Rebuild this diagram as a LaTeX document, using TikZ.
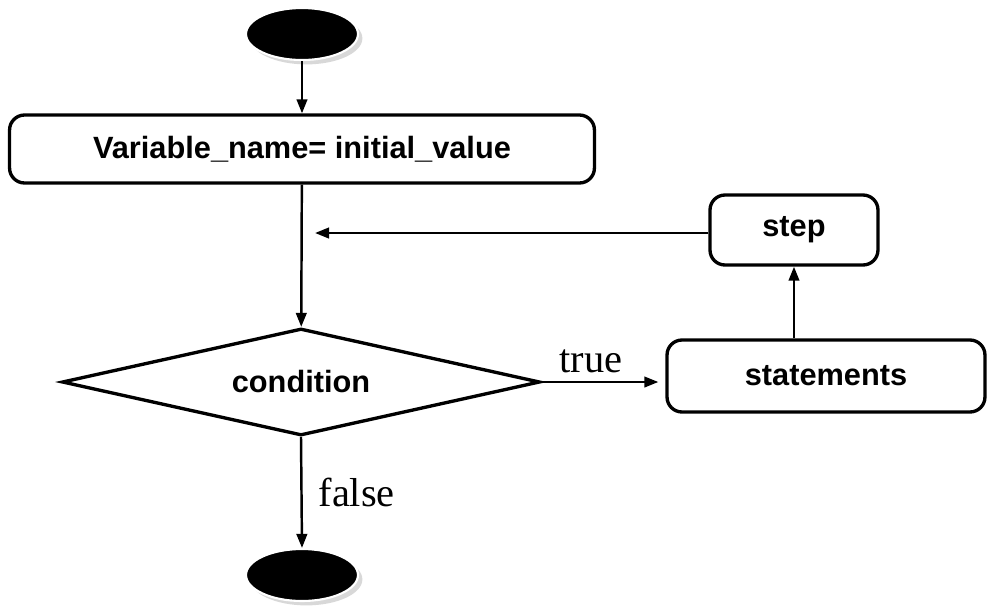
\documentclass[tikz,border=0pt]{standalone}
\usepackage{fontspec}
\setsansfont{Liberation Sans}
\newfontfamily\labelserif{Liberation Serif}
\usetikzlibrary{shapes.geometric,arrows.meta,shadows}
\tikzset{
    terminal/.style={ellipse, fill=black, draw=white, line width=1.2pt, inner sep=0pt,
        minimum width=2.24cm, minimum height=1.04cm,
        drop shadow={shadow xshift=2.5pt, shadow yshift=-2.5pt, fill=gray!60}},
    procbox/.style={draw, rounded corners=0.3cm, line width=1.9pt, inner sep=0pt,
        font=\sffamily\bfseries\fontsize{17.5}{20}\selectfont},
    decision/.style={diamond, aspect=4.47, draw, line width=1.9pt, inner sep=0pt,
        minimum width=9.56cm, minimum height=2.14cm,
        font=\sffamily\bfseries\fontsize{17.5}{20}\selectfont},
    flow/.style={line width=1.4pt, -{Triangle[length=8pt,width=6pt]}},
    branch/.style={font=\labelserif\fontsize{23}{27}\selectfont}
}
\begin{document}
\begin{tikzpicture}[x=0.02cm,y=-0.02cm]
    \useasboundingbox (0,0) rectangle (992,610);
    % nodes
    \node[terminal] (start) at (302,34) {};
    \node[procbox, minimum width=11.7cm, minimum height=1.36cm] (init) at (302,149) {Variable\_name= initial\_value};
    \node[procbox, minimum width=3.36cm, minimum height=1.4cm] (upd) at (794,230) {step};
    \node[decision] (cond) at (301,382) {condition};
    \node[procbox, minimum width=6.36cm, minimum height=1.44cm] (stmts) at (826,376) {statements};
    \node[terminal] (stop) at (302,575) {};
    \coordinate (loopend) at (315,233);
    % connectors
    \draw[flow] (start) -- (init);
    \draw[flow] (init) -- (cond);
    \draw[flow] (upd.west |- loopend) -- (loopend);
    \draw[flow] (upd.south |- stmts.north) -- (upd.south);
    \draw[flow, shorten >=7*0.02cm] (cond.east) -- (cond.east -| stmts.west)
        node[branch, midway, above, xshift=-0.25cm, yshift=0.05cm] {true};
    \draw[flow] (cond.south) -- (stop.north)
        node[branch, midway, right, xshift=0.2cm] {false};
\end{tikzpicture}
\end{document}
